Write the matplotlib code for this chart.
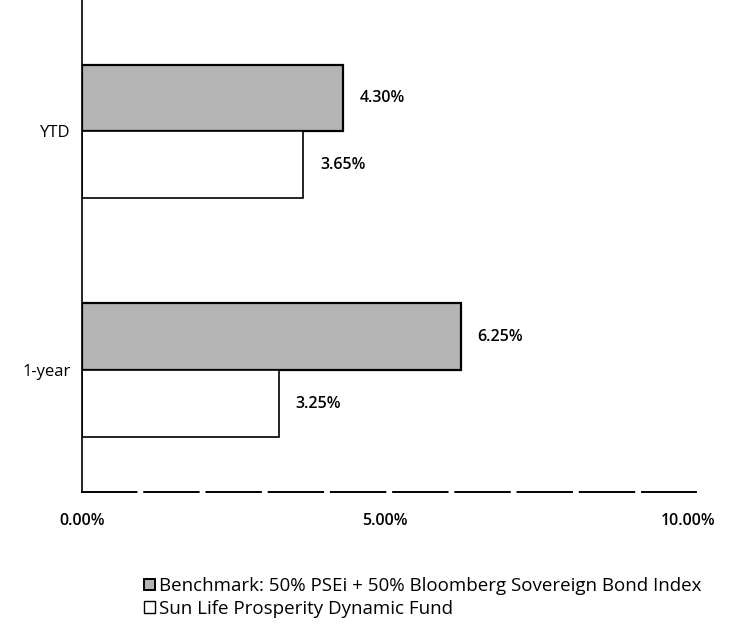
import numpy as np
import matplotlib.pyplot as plt
from matplotlib.patches import Patch

plt.rcParams['font.family'] = ['Open Sans', 'DejaVu Sans']

categories = ['1-year', 'YTD']
benchmark = [6.25, 4.30]
fund = [3.25, 3.65]
series_names = ['Benchmark: 50% PSEi + 50% Bloomberg Sovereign Bond Index',
                'Sun Life Prosperity Dynamic Fund']
xticks = [0, 5, 10]
xtick_labels = ['0.00%', '5.00%', '10.00%']

fig = plt.figure(figsize=(7.3, 6.35), dpi=100)
ax = fig.add_axes([0.112, 0.225, 0.842, 0.775])

y = np.arange(len(categories))
h = 0.28
bench_color = '#b4b4b4'

ax.barh(y + h / 2, benchmark, height=h, color=bench_color, edgecolor='black', linewidth=1.6)
ax.barh(y - h / 2, fund, height=h, color='white', edgecolor='black', linewidth=1.2)

for yi, v in zip(y + h / 2, benchmark):
    ax.annotate(f'{v:.2f}%', (v, yi), xytext=(12, 0), textcoords='offset points',
                va='center', ha='left', fontsize=11.5, fontweight='semibold')
for yi, v in zip(y - h / 2, fund):
    ax.annotate(f'{v:.2f}%', (v, yi), xytext=(12, 0), textcoords='offset points',
                va='center', ha='left', fontsize=11.5, fontweight='semibold')

ax.set_xlim(0, 10.13)
ax.set_ylim(-0.51, 1.55)
ax.set_yticks(y)
ax.set_yticklabels(categories, fontsize=12)
ax.set_xticks(xticks)
ax.set_xticklabels(xtick_labels, fontsize=11.5, fontweight='semibold')
ax.tick_params(axis='both', length=0)
ax.tick_params(axis='x', pad=15)
ax.tick_params(axis='y', pad=8)

for s in ['top', 'right']:
    ax.spines[s].set_visible(False)
ax.spines['left'].set_linewidth(1.2)
ax.spines['bottom'].set_linewidth(1.4)
ax.spines['bottom'].set_linestyle((0, (28, 4)))

handles = [Patch(facecolor=bench_color, edgecolor='black', linewidth=1.4),
           Patch(facecolor='white', edgecolor='black', linewidth=1.0)]
fig.legend(handles, series_names, loc='upper left', bbox_to_anchor=(0.185, 0.106),
           frameon=False, fontsize=13.5, handlelength=0.55, handleheight=0.55,
           handletextpad=0.25, labelspacing=0.25, borderpad=0)

fig.savefig('out.png', dpi=100)
